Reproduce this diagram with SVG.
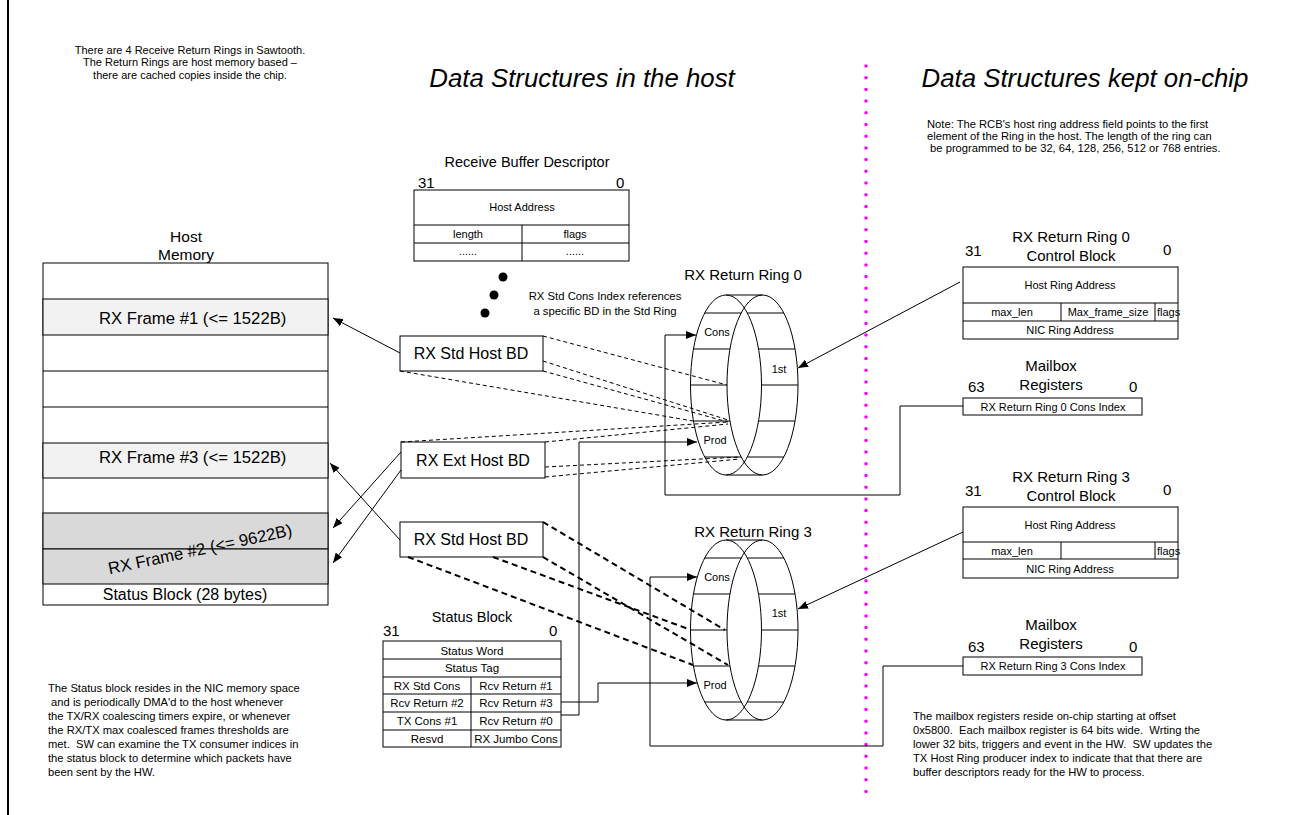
<svg xmlns="http://www.w3.org/2000/svg" width="1293" height="815" viewBox="0 0 1293 815">
<style>
text{font-family:"Liberation Sans",Arial,sans-serif;fill:#000;white-space:pre}
.c{text-anchor:middle}
.note{font-size:11.2px}
.s11{font-size:11px}
.s115{font-size:11.5px}
.s15{font-size:15px}
.ttl{font-size:25.8px;font-style:italic}
.box{fill:#fff;stroke:#000;stroke-width:1}
.ln{fill:none;stroke:#000;stroke-width:1}
.arr{fill:none;stroke:#000;stroke-width:1;marker-end:url(#ah)}
.d1{fill:none;stroke:#000;stroke-width:1;stroke-dasharray:4 3}
.d2{fill:none;stroke:#000;stroke-width:2;stroke-dasharray:6 4}
</style>
<defs>
<marker id="ah" markerUnits="userSpaceOnUse" markerWidth="11" markerHeight="8" refX="10" refY="4" orient="auto">
<path d="M0,0 L10,4 L0,8 z" fill="#000"/>
</marker>
</defs>
<rect width="1293" height="815" fill="#fff"/>
<line x1="8" y1="0" x2="8" y2="815" stroke="#000" stroke-width="2"/>

<g id="titles">
<text class="ttl c" x="582" y="87">Data Structures in the host</text>
<text class="ttl c" x="1085" y="87">Data Structures kept on-chip</text>
</g>
<line id="divider" x1="866" y1="66" x2="866" y2="800" stroke="#ff00ff" stroke-width="3.5" stroke-linecap="round" stroke-dasharray="0 11.7"/>

<g id="note-top-left" style="font-size:11px">
<text class="c" x="190" y="54">There are 4 Receive Return Rings in Sawtooth.</text>
<text class="c" x="190" y="66">The Return Rings are host memory based –</text>
<text class="c" x="190" y="79">there are cached copies inside the chip.</text>
</g>
<g id="note-top-right" class="note">
<text x="927" y="128">Note: The RCB's host ring address field points to the first</text>
<text x="927" y="140">element of the Ring in the host. The length of the ring can</text>
<text x="927" y="152"> be programmed to be 32, 64, 128, 256, 512 or 768 entries.</text>
</g>

<g id="host-memory">
<text class="c" x="186" y="242" style="font-size:15.5px">Host</text>
<text class="c" x="186" y="260" style="font-size:15.5px">Memory</text>
<rect x="43" y="263" width="285" height="342" class="box"/>
<rect x="43" y="299" width="285" height="36" fill="#f2f2f2" stroke="#000"/>
<rect x="43" y="443" width="285" height="35" fill="#f2f2f2" stroke="#000"/>
<rect x="43" y="513" width="285" height="36" fill="#d9d9d9" stroke="#000"/>
<rect x="43" y="549" width="285" height="35" fill="#d9d9d9" stroke="#000"/>
<path class="ln" d="M43,371H328M43,407H328"/>
<text x="99" y="324" style="font-size:16.7px">RX Frame #1 (&lt;= 1522B)</text>
<text x="99" y="463" style="font-size:16.7px">RX Frame #3 (&lt;= 1522B)</text>
<text x="200" y="555" class="c" style="font-size:16.7px" transform="rotate(-12 200 549)">RX Frame #2 (&lt;= 9622B)</text>
<text class="c" x="185" y="600" style="font-size:16px">Status Block (28 bytes)</text>
</g>

<g id="rbd">
<text class="c" x="527" y="167" style="font-size:14.5px">Receive Buffer Descriptor</text>
<text class="s15" x="418" y="188">31</text>
<text class="s15" x="616" y="188">0</text>
<rect x="414" y="190" width="215" height="71" class="box"/>
<path class="ln" d="M414,225H629M414,243H629M522,225V261"/>
<text class="c s11" x="522" y="211">Host Address</text>
<text class="c s11" x="468" y="238">length</text>
<text class="c s11" x="575" y="238">flags</text>
<text class="c s11" x="468" y="255">......</text>
<text class="c s11" x="575" y="255">......</text>
<circle cx="503" cy="277" r="4.5"/>
<circle cx="494" cy="295" r="4.5"/>
<circle cx="485" cy="313" r="4.5"/>
<text class="c" style="font-size:11.3px" x="605" y="300">RX Std Cons Index references</text>
<text class="c" style="font-size:11.3px" x="605" y="315">a specific BD in the Std Ring</text>
</g>

<g id="bd1">
<rect x="400" y="336" width="143" height="35" class="box"/>
<text class="c" x="471" y="359" style="font-size:16px">RX Std Host BD</text>
</g>
<g id="bd2">
<rect x="401" y="442" width="144" height="36" class="box"/>
<text class="c" x="473" y="466" style="font-size:16px">RX Ext Host BD</text>
</g>
<g id="bd3">
<rect x="400" y="522" width="143" height="35" class="box"/>
<text class="c" x="471" y="545" style="font-size:16px">RX Std Host BD</text>
</g>

<g id="status-block">
<text class="c" x="472" y="622" style="font-size:14.5px">Status Block</text>
<text class="s15" x="383" y="636">31</text>
<text class="s15" x="549" y="636">0</text>
<rect x="383" y="641" width="178" height="106" class="box"/>
<path class="ln" d="M383,659H561M383,677H561M383,694H561M383,712H561M383,730H561M471,677V747"/>
<g class="s115">
<text class="c" x="472" y="655">Status Word</text>
<text class="c" x="472" y="672">Status Tag</text>
<text class="c" x="427" y="690">RX Std Cons</text>
<text class="c" x="516" y="690">Rcv Return #1</text>
<text class="c" x="427" y="707">Rcv Return #2</text>
<text class="c" x="516" y="707">Rcv Return #3</text>
<text class="c" x="427" y="725">TX Cons #1</text>
<text class="c" x="516" y="725">Rcv Return #0</text>
<text class="c" x="427" y="743">Resvd</text>
<text class="c" x="516" y="743">RX Jumbo Cons</text>
</g>
</g>

<g id="ring0">
<text class="c s15" x="743" y="280">RX Return Ring 0</text>
<ellipse cx="726" cy="385" rx="35.5" ry="90" class="ln"/>
<ellipse cx="762.5" cy="385" rx="35.5" ry="90" class="ln"/>
<path class="ln" d="M726,295H762.5M726,475H762.5M704.7,313H741.2M747.3,313H783.8M693.5,349H730M758.5,349H795M690.5,385H727M761.5,385H798M693.5,421H730M758.5,421H795M704.7,457H741.2M747.3,457H783.8"/>
<text class="c s11" x="717" y="336">Cons</text>
<text class="c s11" x="779" y="373">1st</text>
<text class="c s11" x="715" y="444">Prod</text>
</g>

<g id="ring3">
<text class="c s15" x="753" y="537">RX Return Ring 3</text>
<ellipse cx="726" cy="630" rx="35.5" ry="90" class="ln"/>
<ellipse cx="762.5" cy="630" rx="35.5" ry="90" class="ln"/>
<path class="ln" d="M726,540H762.5M726,720H762.5M704.7,558H741.2M747.3,558H783.8M693.5,594H730M758.5,594H795M690.5,630H727M761.5,630H798M693.5,666H730M758.5,666H795M704.7,702H741.2M747.3,702H783.8"/>
<text class="c s11" x="717" y="581">Cons</text>
<text class="c s11" x="779" y="617">1st</text>
<text class="c s11" x="715" y="689">Prod</text>
</g>

<g id="rcb0">
<text class="c s15" x="1071" y="242">RX Return Ring 0</text>
<text class="c s15" x="1071" y="261">Control Block</text>
<text class="s15" x="965" y="256">31</text>
<text class="s15" x="1163" y="255">0</text>
<rect x="963" y="267" width="215" height="72" class="box"/>
<path class="ln" d="M963,303H1178M963,321H1178M1061,303V321M1155,303V321"/>
<text class="c s11" x="1070" y="289">Host Ring Address</text>
<text class="c s11" x="1012" y="316">max_len</text>
<text class="c s11" x="1108" y="316">Max_frame_size</text>
<text class="s11" x="1157" y="316">flags</text>
<text class="c s11" x="1070" y="334">NIC Ring Address</text>
</g>
<g id="mbox0">
<text class="c s15" x="1051" y="371">Mailbox</text>
<text class="c s15" x="1051" y="390">Registers</text>
<text class="s15" x="968" y="392">63</text>
<text class="s15" x="1129" y="392">0</text>
<rect x="963" y="398" width="179" height="17" class="box"/>
<text class="c s11" x="1053" y="411">RX Return Ring 0 Cons Index</text>
</g>
<g id="rcb3">
<text class="c s15" x="1071" y="482">RX Return Ring 3</text>
<text class="c s15" x="1071" y="501">Control Block</text>
<text class="s15" x="965" y="496">31</text>
<text class="s15" x="1163" y="495">0</text>
<rect x="963" y="507" width="215" height="71" class="box"/>
<path class="ln" d="M963,542H1178M963,559H1178M1061,542V559M1155,542V559"/>
<text class="c s11" x="1070" y="529">Host Ring Address</text>
<text class="c s11" x="1012" y="555">max_len</text>
<text class="s11" x="1157" y="555">flags</text>
<text class="c s11" x="1070" y="573">NIC Ring Address</text>
</g>
<g id="mbox3">
<text class="c s15" x="1051" y="630">Mailbox</text>
<text class="c s15" x="1051" y="649">Registers</text>
<text class="s15" x="968" y="652">63</text>
<text class="s15" x="1129" y="652">0</text>
<rect x="963" y="657" width="179" height="18" class="box"/>
<text class="c s11" x="1053" y="670">RX Return Ring 3 Cons Index</text>
</g>

<g id="note-bottom-left" class="note">
<text x="48" y="692">The Status block resides in the NIC memory space</text>
<text x="48" y="706"> and is periodically DMA'd to the host whenever</text>
<text x="48" y="720">the TX/RX coalescing timers expire, or whenever</text>
<text x="48" y="734">the RX/TX max coalesced frames thresholds are</text>
<text x="48" y="748">met.  SW can examine the TX consumer indices in</text>
<text x="48" y="762">the status block to determine which packets have</text>
<text x="48" y="776">been sent by the HW.</text>
</g>
<g id="note-bottom-right" class="note">
<text x="913" y="720">The mailbox registers reside on-chip starting at offset</text>
<text x="913" y="734">0x5800.  Each mailbox register is 64 bits wide.  Wrting the</text>
<text x="913" y="748">lower 32 bits, triggers and event in the HW.  SW updates the</text>
<text x="913" y="762">TX Host Ring producer index to indicate that that there are</text>
<text x="913" y="776">buffer descriptors ready for the HW to process.</text>
</g>

<g id="connectors">
<line class="arr" x1="400" y1="353" x2="333" y2="318"/>
<line class="arr" x1="400" y1="540" x2="330" y2="463"/>
<line class="arr" x1="401" y1="452" x2="333" y2="528"/>
<line class="arr" x1="401" y1="470" x2="333" y2="563"/>
<line class="d1" x1="543" y1="336" x2="727" y2="385"/>
<line class="d1" x1="543" y1="361" x2="728" y2="420"/>
<line class="d1" x1="543" y1="371" x2="728" y2="422"/>
<line class="d1" x1="400" y1="371" x2="693" y2="421"/>
<line class="d1" x1="401" y1="442" x2="728" y2="422"/>
<line class="d1" x1="545" y1="442" x2="728" y2="424"/>
<line class="d1" x1="545" y1="467" x2="740" y2="457"/>
<line class="d1" x1="545" y1="477" x2="740" y2="459"/>
<line class="d2" x1="543" y1="522" x2="725" y2="630"/>
<line class="d2" x1="543" y1="557" x2="728" y2="665"/>
<line class="d2" x1="493" y1="557" x2="691" y2="630"/>
<line class="d2" x1="408" y1="557" x2="693" y2="665"/>
<polyline class="arr" points="561,715 579,715 579,442 697,442"/>
<polyline class="arr" points="561,702 598,702 598,683 697,683"/>
<polyline class="arr" points="963,406 900,406 900,495 665,495 665,335 696,335"/>
<polyline class="arr" points="963,666 883,666 883,746 650,746 650,577 697,577"/>
<line class="arr" x1="960" y1="282" x2="798" y2="368"/>
<line class="arr" x1="963" y1="532" x2="798" y2="609"/>
</g>
</svg>
